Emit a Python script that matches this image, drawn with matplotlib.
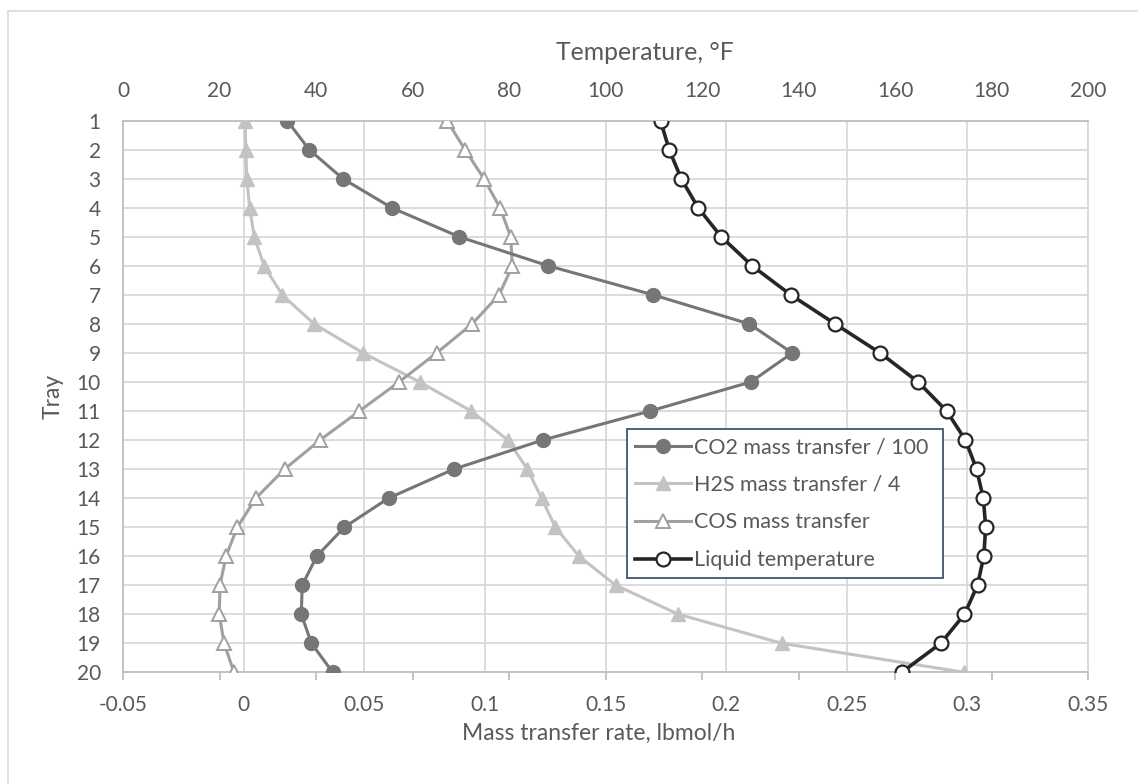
import matplotlib
matplotlib.use("Agg")
import matplotlib.pyplot as plt
from matplotlib.patches import Rectangle

plt.rcParams['font.family'] = ['Lato', 'DejaVu Sans']

trays = list(range(1, 21))
co2 = [0.0181, 0.0272, 0.0412, 0.0614, 0.0894, 0.1263, 0.1698, 0.2096, 0.2274, 0.2102,
       0.1685, 0.1240, 0.0872, 0.0601, 0.0418, 0.0303, 0.0243, 0.0239, 0.0281, 0.0369]
h2s = [0.0006, 0.0009, 0.0013, 0.0025, 0.0044, 0.0085, 0.0160, 0.0292, 0.0495, 0.0730,
       0.0943, 0.1095, 0.1176, 0.1235, 0.1292, 0.1390, 0.1542, 0.1802, 0.2230, 0.2986]
cos = [0.0843, 0.0918, 0.0996, 0.1063, 0.1107, 0.1114, 0.1059, 0.0947, 0.0800, 0.0644,
       0.0480, 0.0317, 0.0170, 0.0051, -0.0026, -0.0073, -0.0098, -0.0101, -0.0081, -0.0040]
temp = [111.4, 113.2, 115.7, 119.2, 124.0, 130.4, 138.4, 147.6, 156.9, 164.8,
        170.7, 174.6, 176.9, 178.3, 178.8, 178.4, 177.1, 174.4, 169.5, 161.4]

mt_ticks = [-0.05, 0, 0.05, 0.1, 0.15, 0.2, 0.25, 0.3, 0.35]
mt_labels = ['-0.05', '0', '0.05', '0.1', '0.15', '0.2', '0.25', '0.3', '0.35']
t_ticks = [0, 20, 40, 60, 80, 100, 120, 140, 160, 180, 200]

W, H = 1138, 784
fig = plt.figure(figsize=(W / 100, H / 100), dpi=100)
left, right, top, bottom = 123, 1088, 120.7, 672.3
aw, ah = right - left, bottom - top
ax = fig.add_axes([left / W, 1 - bottom / H, aw / W, ah / H])

# outer chart border (top and left visible)
fig.patches.append(Rectangle((8 / W, -0.1), 1.2, 1 - 11 / H + 0.1, transform=fig.transFigure,
                             fill=False, edgecolor='#D9D9D9', linewidth=1.2, zorder=0))

txt = '#595959'
grid = '#D9D9D9'
fs = 15
tfs = 16.5

ax.set_xlim(-0.05, 0.35)
ax.set_ylim(20, 1)
ax.set_xticks(mt_ticks)
ax.set_xticklabels(mt_labels)
ax.set_yticks(trays)
ax.tick_params(axis='both', length=0, labelsize=fs, labelcolor=txt)
ax.tick_params(axis='x', pad=16)
ax.tick_params(axis='y', pad=16)
ax.grid(True, color=grid, linewidth=1.3)
ax.set_axisbelow(True)
for s in ['left', 'bottom', 'top']:
    ax.spines[s].set_color('#BFBFBF')
    ax.spines[s].set_linewidth(1.3)
ax.spines['right'].set_color(grid)
ax.spines['right'].set_linewidth(1.3)

l1, = ax.plot(co2, trays, color='#767676', lw=2.2, marker='o', ms=10,
              mfc='#767676', mec='#767676', label='CO2 mass transfer / 100', zorder=4)
l2, = ax.plot(h2s, trays, color='#C3C3C3', lw=2.2, marker='^', ms=10,
              mfc='#C3C3C3', mec='#C3C3C3', label='H2S mass transfer / 4', zorder=3)
l3, = ax.plot(cos, trays, color='#A0A0A0', lw=2.2, marker='^', ms=10,
              mfc='white', mec='#A0A0A0', mew=1.4, label='COS mass transfer', zorder=3)

ax2 = ax.twiny()
ax2.set_xlim(0, 200)
ax2.set_ylim(20, 1)
ax2.set_xticks(t_ticks)
ax2.xaxis.set_ticks_position('both')
ax2.tick_params(axis='x', top=False, bottom=True, labeltop=True, labelbottom=False,
                direction='out', length=6, width=1.3, color='#BFBFBF',
                labelsize=fs, labelcolor=txt, pad=8)
for s in ax2.spines.values():
    s.set_visible(False)
l4, = ax2.plot(temp, trays, color='#262626', lw=2.6, marker='o', ms=10,
               mfc='white', mec='#262626', mew=1.6, label='Liquid temperature', zorder=5)

fig.text(645 / W, 1 - 52 / H, 'Temperature, °F', ha='center', va='center', fontsize=17.8, color=txt)
fig.text(599 / W, 1 - 733 / H, 'Mass transfer rate, lbmol/h', ha='center', va='center', fontsize=tfs, color=txt)
fig.text(53 / W, 1 - 396 / H, 'Tray', ha='center', va='center', rotation=90, fontsize=tfs, color=txt)

# legend box
lx0, ly0, lx1, ly1 = 627, 429, 943, 579
bx = (lx0 - left) / aw
bw = (lx1 - lx0) / aw
btop = 1 - (ly0 - top) / ah
bh = (ly1 - ly0) / ah
leg = ax2.legend(handles=[l1, l2, l3, l4], loc='upper left',
                 bbox_to_anchor=(bx, btop - bh, bw, bh),
                 mode='expand', fontsize=15.5, frameon=True, fancybox=False, framealpha=1,
                 handlelength=2.6, handletextpad=0.15, borderpad=0.38, labelspacing=0.82,
                 borderaxespad=0)
leg.get_frame().set_edgecolor('#44546A')
leg.get_frame().set_linewidth(1.3)
for t in leg.get_texts():
    t.set_color(txt)
leg.set_zorder(10)

fig.savefig('out.png', dpi=100)
